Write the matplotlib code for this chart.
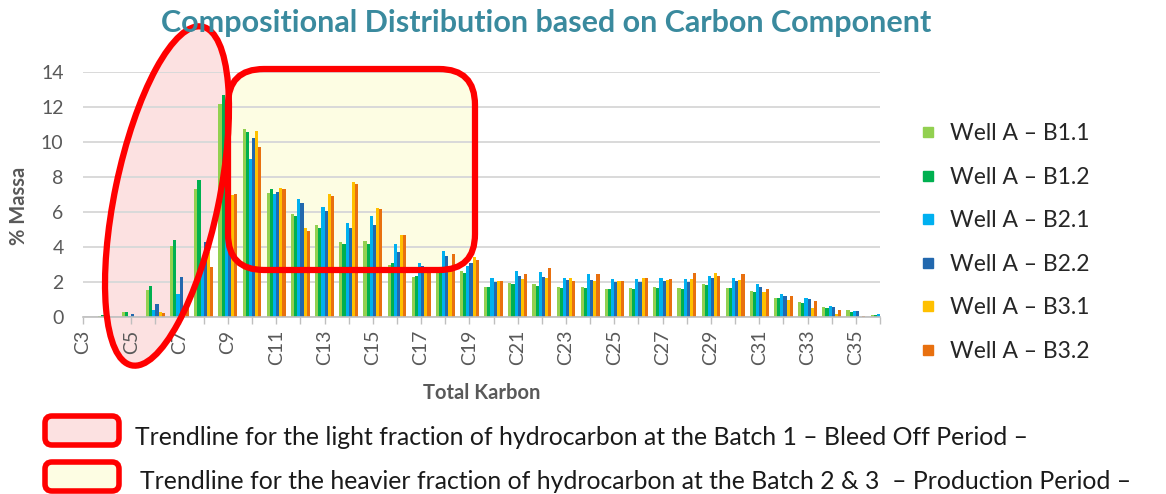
"""
Compositional distribution by carbon number for Well A batches,
with the light / heavy fraction highlight shapes drawn over the chart.
"""

import matplotlib
import matplotlib.pyplot as plt
import numpy as np
from matplotlib.lines import Line2D
from matplotlib.patches import Ellipse, FancyBboxPatch

matplotlib.use("Agg")

# ── Data ─────────────────────────────────────────────────────────────────────
carbons = [f"C{n}" for n in range(3, 37)]

series_labels = ["Well A – B1.1", "Well A – B1.2", "Well A – B2.1",
                 "Well A – B2.2", "Well A – B3.1", "Well A – B3.2"]
series_colors = ["#92D050", "#00B050", "#00B0F0", "#2268AE", "#FFC000", "#E8700F"]

b1_1 = [0, 0.05, 0.28, 1.53, 4.07, 7.29, 12.2, 10.74, 7.1, 5.88, 5.25, 4.27,
        4.34, 2.95, 2.29, 2.76, 2.65, 1.73, 1.92, 1.89, 1.7, 1.7, 1.6, 1.64,
        1.7, 1.64, 1.89, 1.68, 1.49, 1.1, 0.84, 0.59, 0.4, 0.12]
b1_2 = [0, 0.1, 0.3, 1.76, 4.39, 7.82, 12.7, 10.6, 7.31, 5.76, 5.06, 4.15,
        4.19, 3.08, 2.34, 2.76, 2.53, 1.7, 1.89, 1.77, 1.68, 1.68, 1.58, 1.62,
        1.66, 1.62, 1.83, 1.64, 1.43, 1.07, 0.82, 0.53, 0.29, 0.1]
b2_1 = [0, 0, 0.05, 0.42, 1.34, 3.3, 7.06, 9.03, 7.02, 6.72, 6.28, 5.37,
        5.75, 4.19, 3.07, 3.77, 2.91, 2.25, 2.65, 2.59, 2.25, 2.46, 2.17, 2.17,
        2.25, 2.17, 2.36, 2.25, 1.87, 1.33, 1.07, 0.63, 0.34, 0.2]
b2_2 = [0, 0, 0.15, 0.76, 2.29, 4.3, 7.0, 10.25, 7.12, 6.53, 6.07, 5.1,
        5.24, 3.71, 2.93, 3.5, 3.07, 2.02, 2.36, 2.27, 2.11, 2.11, 1.98, 1.98,
        2.06, 1.98, 2.25, 2.06, 1.73, 1.22, 1.01, 0.59, 0.34, 0]
b3_1 = [0, 0, 0.02, 0.29, 0.4, 3.7, 7.0, 10.63, 7.35, 5.1, 7.02, 7.71,
        6.25, 4.7, 2.78, 2.75, 3.45, 2.06, 2.17, 2.21, 2.25, 2.08, 2.06, 2.25,
        2.11, 2.2, 2.53, 2.11, 1.43, 0.97, 0.53, 0.17, 0.02, 0]
b3_2 = [0, 0, 0.02, 0.23, 0.5, 2.86, 7.05, 9.7, 7.31, 4.92, 6.93, 7.62,
        6.19, 4.7, 2.82, 3.58, 3.26, 2.06, 2.46, 2.78, 2.06, 2.46, 2.06, 2.25,
        2.17, 2.53, 2.34, 2.46, 1.6, 1.22, 0.91, 0.4, 0.05, 0]

series = [b1_1, b1_2, b2_1, b2_2, b3_1, b3_2]

note_light = "Trendline for the light fraction of hydrocarbon at the Batch 1 – Bleed Off Period –"
note_heavy = "Trendline for the heavier fraction of hydrocarbon at the Batch 2 & 3  – Production Period –"

# ── Style ────────────────────────────────────────────────────────────────────
plt.rcParams["font.family"] = ["Lato", "DejaVu Sans"]
GREY_TXT = "#595959"
RED = "#FF0000"
PINK = "#FCE1E1"
CREAM = "#FDFDE3"

W, H = 1166, 494
fig = plt.figure(figsize=(W / 100, H / 100), dpi=100)
ax = fig.add_axes([83 / W, 1 - 317 / H, 797 / W, 245 / H])
ax.set_facecolor("none")

# ── Bars ─────────────────────────────────────────────────────────────────────
x = np.arange(len(carbons))
bw = 0.13
for i, (vals, lab, col) in enumerate(zip(series, series_labels, series_colors)):
    ax.bar(x + (i - 2.5) * bw, vals, width=bw, color=col, label=lab,
           linewidth=0, zorder=2)

ax.set_xlim(0, len(carbons) - 1)
ax.set_ylim(0, 14)
ax.set_yticks(np.arange(0, 15, 2))
ax.set_xticks(x)
ax.set_xticklabels([c if i % 2 == 0 else "" for i, c in enumerate(carbons)],
                   rotation=90)
ax.tick_params(axis="y", length=0, pad=14, labelsize=14, labelcolor=GREY_TXT)
ax.tick_params(axis="x", length=5, width=1, color="#BFBFBF", pad=4,
               labelsize=14, labelcolor=GREY_TXT)

ax.yaxis.grid(True, color="#D9D9D9", linewidth=1.4)
ax.set_axisbelow(True)
for side in ["top", "right", "left"]:
    ax.spines[side].set_visible(False)
ax.spines["bottom"].set_color("#BFBFBF")
ax.spines["bottom"].set_linewidth(1.2)

ax.set_xlabel("Total Karbon", fontsize=14.5, fontweight="bold", color=GREY_TXT)
ax.xaxis.set_label_coords(0.5, -0.27)
ax.set_ylabel("% Massa", fontsize=14.5, fontweight="bold", color=GREY_TXT)
ax.yaxis.set_label_coords(-0.068, 0.455)

# ── Legend ───────────────────────────────────────────────────────────────────
handles = [Line2D([], [], marker="s", linestyle="none", markersize=7,
                  markerfacecolor=c, markeredgecolor=c) for c in series_colors]
ax.legend(handles, series_labels, loc="upper left",
          bbox_to_anchor=(909 / W, 1 - 112 / H), bbox_transform=fig.transFigure,
          frameon=False, fontsize=16.5, labelcolor="#262626",
          handlelength=0.7, handletextpad=0.6, labelspacing=0.98, borderpad=0)

# ── Title ────────────────────────────────────────────────────────────────────
fig.text(546 / W, 1 - 23 / H, "Compositional Distribution based on Carbon Component",
         ha="center", va="center", fontsize=22, fontweight="bold",
         color="#3A8A9E", zorder=10)

# ── Highlight shapes (inch coordinates) ──────────────────────────────────────
tr = fig.dpi_scale_trans


def px(xp, yp):
    return xp / 100, (H - yp) / 100


ell_c = px(167, 196)
ell_w, ell_h, ell_ang = 1.04, 3.46, -11.8
rect_xy = px(228, 270)
fig.add_artist(Ellipse(ell_c, ell_w, ell_h, angle=ell_ang, transform=tr,
                       facecolor=PINK, edgecolor="none", zorder=-2))
fig.add_artist(FancyBboxPatch(rect_xy, 2.47, 2.01, transform=tr,
                              boxstyle="round,pad=0,rounding_size=0.36",
                              facecolor=CREAM, edgecolor="none", zorder=-1))
fig.add_artist(Ellipse(ell_c, ell_w, ell_h, angle=ell_ang, transform=tr,
                       facecolor="none", edgecolor=RED, linewidth=4.5, zorder=5))
fig.add_artist(FancyBboxPatch(rect_xy, 2.47, 2.01, transform=tr,
                              boxstyle="round,pad=0,rounding_size=0.36",
                              facecolor="none", edgecolor=RED, linewidth=4.5,
                              zorder=5))

# ── Notes at the bottom ──────────────────────────────────────────────────────
for (y_box, fill, text, tx, ty) in [(445, PINK, note_light, 135, 437),
                                    (491, CREAM, note_heavy, 140, 481)]:
    fig.add_artist(FancyBboxPatch(px(45, y_box), 0.74, 0.29, transform=tr,
                                  boxstyle="round,pad=0,rounding_size=0.07",
                                  facecolor=fill, edgecolor=RED, linewidth=4.0,
                                  zorder=5))
    fig.text(tx / W, 1 - ty / H, text, ha="left", va="center", fontsize=17.8,
             color="#1A1A1A")

fig.savefig("out.png", dpi=100)
